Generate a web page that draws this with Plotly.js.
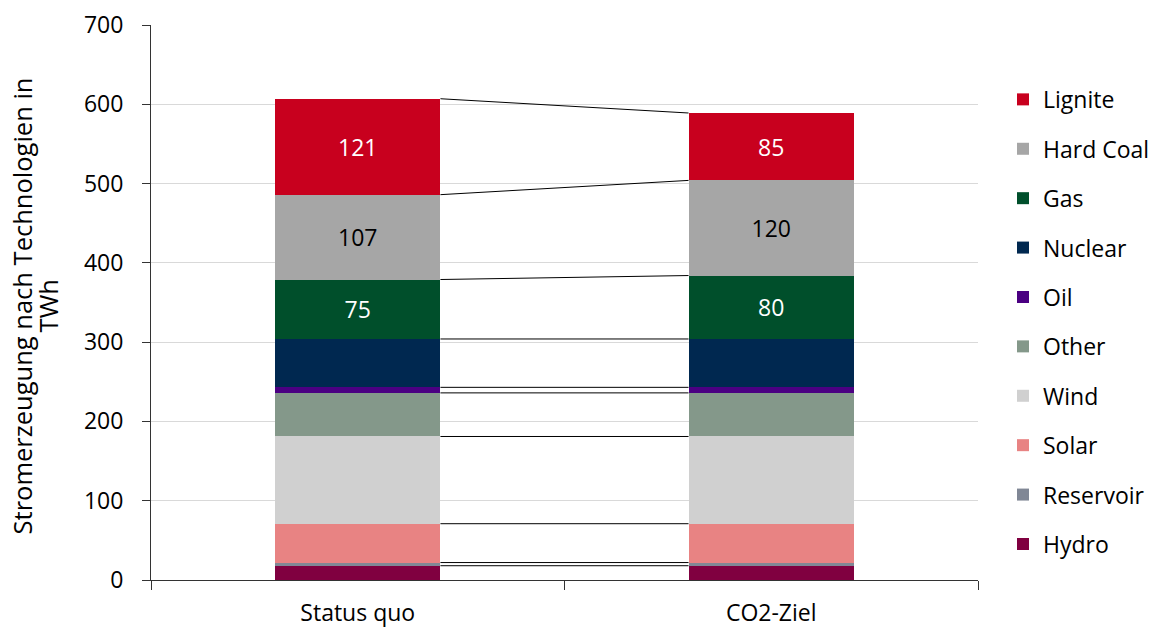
<!DOCTYPE html>
<html>
<head>
<meta charset="utf-8">
<script src="https://cdn.plot.ly/plotly-3.0.1.min.js"></script>
<style>html,body{margin:0;padding:0;background:#fff;}#chart{width:1164px;height:633px;}</style>
</head>
<body>
<div id="chart"></div>
<script>
const categories = ["Status quo", "CO2-Ziel"];
const seriesNames = ["Hydro", "Reservoir", "Solar", "Wind", "Other", "Oil", "Nuclear", "Gas", "Hard Coal", "Lignite"];
const hydro = [18, 18];
const reservoir = [4, 4];
const solar = [49, 49];
const wind = [110, 110];
const other = [55, 55];
const oil = [7, 7];
const nuclear = [61, 61];
const gas = [75, 80];
const hardCoal = [107, 120];
const lignite = [121, 85];
const seriesValues = [hydro, reservoir, solar, wind, other, oil, nuclear, gas, hardCoal, lignite];
const colors = ["#800040", "#808795", "#E88383", "#D0D0D0", "#84988A", "#4B0082", "#002850", "#004F2B", "#A6A6A6", "#C8001E"];
const labelled = {"Gas": "#ffffff", "Hard Coal": "#000000", "Lignite": "#ffffff"};
const yTitleLines = ["Stromerzeugung nach Technologien in", "TWh"];
const FONT = "Open Sans, Noto Sans, sans-serif";
const barWidth = 0.4;

const W = 1164, H = 633, ML = 151, MR = 0, MT = 25, MB = 53;
const paperW = W - ML - MR;
const plotRight = 978;
const domEnd = (plotRight - ML) / paperW;
const px = v => (v - ML) / paperW;

const traces = seriesNames.map((name, i) => {
  const t = {
    type: "bar",
    name: name,
    x: categories,
    y: seriesValues[i],
    width: barWidth,
    marker: {color: colors[i], line: {width: 0}},
    legendgroup: name,
    legendrank: seriesNames.length - i,
    hoverinfo: "name+y"
  };
  if (labelled[name]) {
    t.text = seriesValues[i].map(String);
    t.textposition = "inside";
    t.insidetextanchor = "middle";
    t.textangle = 0;
    t.textfont = {color: labelled[name], size: 23, family: FONT};
  } else {
    t.textposition = "none";
  }
  return t;
});

// connector lines at each stack boundary
const shapes = [];
const cum = [0, 0];
seriesValues.forEach(vals => {
  cum[0] += vals[0];
  cum[1] += vals[1];
  shapes.push({
    type: "line", xref: "x", yref: "y",
    x0: 0 + barWidth / 2, x1: 1 - barWidth / 2,
    y0: cum[0], y1: cum[1],
    line: {color: "#000000", width: 1}
  });
});

const annotations = [
  {text: yTitleLines[0], xref: "paper", yref: "paper", x: px(22), y: 0.493, xanchor: "center", yanchor: "middle",
   textangle: -90, showarrow: false, font: {size: 25.5, family: FONT, color: "#000"}},
  {text: yTitleLines[1], xref: "paper", yref: "paper", x: px(48), y: 0.493, xanchor: "center", yanchor: "middle",
   textangle: -90, showarrow: false, font: {size: 25.5, family: FONT, color: "#000"}}
];

const layout = {
  width: W, height: H,
  margin: {l: ML, r: MR, t: MT, b: MB},
  paper_bgcolor: "#fff", plot_bgcolor: "#fff",
  barmode: "stack",
  font: {family: FONT, size: 23, color: "#000"},
  showlegend: true,
  legend: {
    x: px(1003), xanchor: "left", y: 0.465, yanchor: "middle",
    traceorder: "grouped", tracegroupgap: 16.5,
    font: {size: 23, family: FONT, color: "#000"},
    itemwidth: 30
  },
  xaxis: {
    type: "category",
    domain: [0, domEnd],
    range: [-0.5, 1.5],
    showline: true, linecolor: "#333", linewidth: 1,
    ticks: "outside", tickson: "boundaries", ticklen: 9, tickcolor: "#333",
    tickfont: {size: 23, family: FONT},
    ticklabelstandoff: 12,
    showgrid: false, zeroline: false
  },
  yaxis: {
    range: [0, 700], dtick: 100,
    showline: true, linecolor: "#333", linewidth: 1,
    ticks: "outside", ticklen: 8, tickcolor: "#333",
    tickfont: {size: 23, family: FONT},
    ticklabelstandoff: 14,
    showgrid: true, gridcolor: "#D9D9D9", gridwidth: 1,
    zeroline: false
  },
  annotations: annotations,
  shapes: shapes
};

Plotly.newPlot("chart", traces, layout, {displayModeBar: false, staticPlot: true});
</script>
</body>
</html>
